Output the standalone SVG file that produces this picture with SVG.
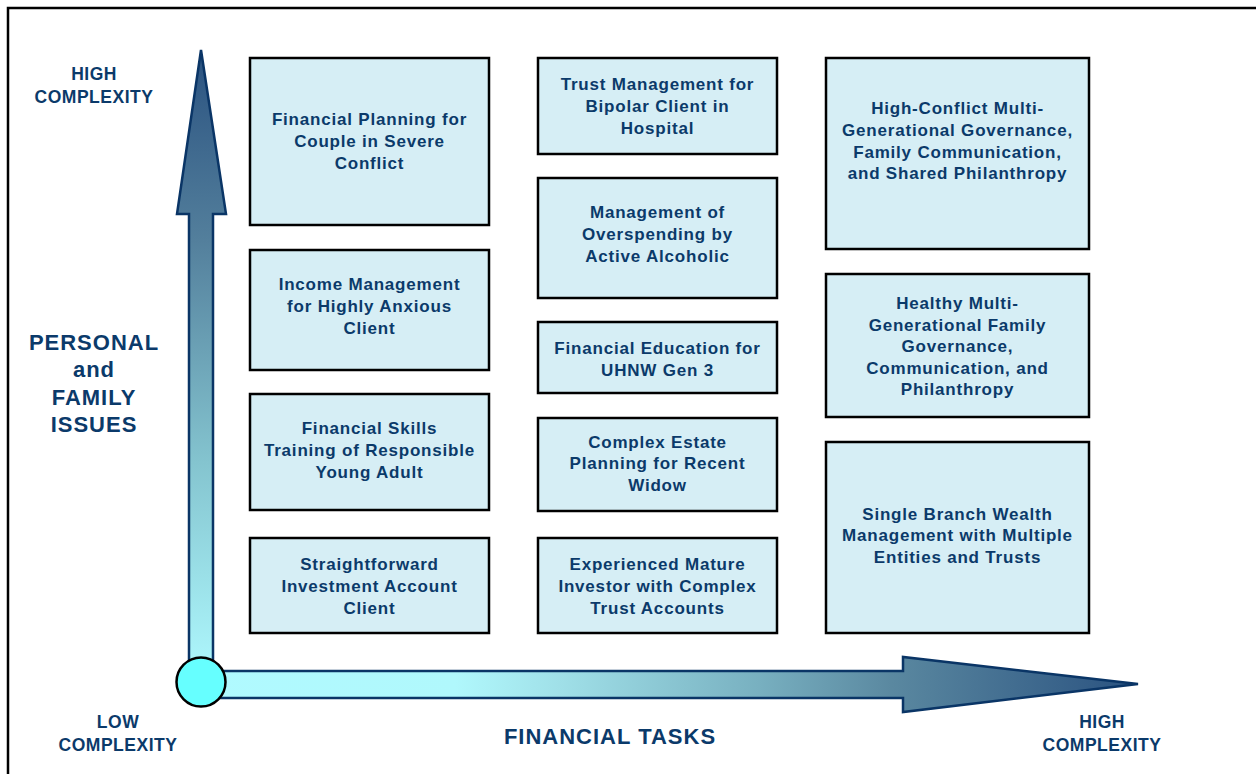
<svg xmlns="http://www.w3.org/2000/svg" width="1256" height="774" viewBox="0 0 1256 774">
<defs>
<style>
.box{fill:#d6eef5;stroke:#000;stroke-width:2.5}
.t{font-family:"Liberation Sans",Arial,sans-serif;font-weight:bold;fill:#0b3a6a;text-anchor:middle}
.bt{font-size:17px;letter-spacing:0.8px}
.ax{font-size:17.5px;letter-spacing:0.5px}
.big{font-size:22px;letter-spacing:1px}
.arr{stroke:#0a3566;stroke-width:2.5;stroke-linejoin:miter}
</style>
<linearGradient id="gv" x1="0" y1="50" x2="0" y2="684" gradientUnits="userSpaceOnUse">
<stop offset="0" stop-color="#2a5280"/>
<stop offset="0.3" stop-color="#537f9c"/>
<stop offset="0.65" stop-color="#84c4cf"/>
<stop offset="1" stop-color="#b0faff"/>
</linearGradient>
<linearGradient id="gh" x1="190" y1="0" x2="1138" y2="0" gradientUnits="userSpaceOnUse">
<stop offset="0" stop-color="#b0faff"/>
<stop offset="0.28" stop-color="#b0f8fc"/>
<stop offset="0.39" stop-color="#a0e0e8"/>
<stop offset="0.6" stop-color="#78b0c0"/>
<stop offset="0.74" stop-color="#5a88a0"/>
<stop offset="1" stop-color="#2a5280"/>
</linearGradient>
</defs>
<rect x="8" y="8" width="1262" height="790" fill="#fff" stroke="#000" stroke-width="2.5"/>

<g id="connectors">
<path class="arr" fill="url(#gv)" d="M201,50 L226,214 L213,214 L213,684 L189,684 L189,214 L177,214 Z"/>
<path class="arr" fill="url(#gh)" d="M201,671 L903,671 L903,657 L1138,684 L903,712 L903,698 L201,698 Z"/>
<circle cx="201" cy="682" r="24.5" fill="#66ffff" stroke="#000" stroke-width="2.5"/>
</g>

<g id="labels">
<text class="t ax" x="94" y="80">HIGH</text>
<text class="t ax" x="94" y="103">COMPLEXITY</text>
<text class="t big" x="94" y="350">PERSONAL</text>
<text class="t big" x="94" y="377">and</text>
<text class="t big" x="94" y="405">FAMILY</text>
<text class="t big" x="94" y="432">ISSUES</text>
<text class="t ax" x="118" y="728">LOW</text>
<text class="t ax" x="118" y="751">COMPLEXITY</text>
<text class="t big" x="610" y="744">FINANCIAL TASKS</text>
<text class="t ax" x="1102" y="728">HIGH</text>
<text class="t ax" x="1102" y="751">COMPLEXITY</text>
</g>

<g id="n1"><rect class="box" x="250" y="58" width="239" height="167"/>
<text class="t bt" x="369.5" y="125">Financial Planning for</text>
<text class="t bt" x="369.5" y="147">Couple in Severe</text>
<text class="t bt" x="369.5" y="169">Conflict</text></g>

<g id="n2"><rect class="box" x="250" y="250" width="239" height="120"/>
<text class="t bt" x="369.5" y="290">Income Management</text>
<text class="t bt" x="369.5" y="312">for Highly Anxious</text>
<text class="t bt" x="369.5" y="334">Client</text></g>

<g id="n3"><rect class="box" x="250" y="394" width="239" height="116"/>
<text class="t bt" x="369.5" y="434">Financial Skills</text>
<text class="t bt" x="369.5" y="456">Training of Responsible</text>
<text class="t bt" x="369.5" y="478">Young Adult</text></g>

<g id="n4"><rect class="box" x="250" y="538" width="239" height="95"/>
<text class="t bt" x="369.5" y="570">Straightforward</text>
<text class="t bt" x="369.5" y="592">Investment Account</text>
<text class="t bt" x="369.5" y="614">Client</text></g>

<g id="n5"><rect class="box" x="538" y="58" width="239" height="96"/>
<text class="t bt" x="657.5" y="90">Trust Management for</text>
<text class="t bt" x="657.5" y="112">Bipolar Client in</text>
<text class="t bt" x="657.5" y="134">Hospital</text></g>

<g id="n6"><rect class="box" x="538" y="178" width="239" height="120"/>
<text class="t bt" x="657.5" y="218">Management of</text>
<text class="t bt" x="657.5" y="240">Overspending by</text>
<text class="t bt" x="657.5" y="262">Active Alcoholic</text></g>

<g id="n7"><rect class="box" x="538" y="322" width="239" height="71"/>
<text class="t bt" x="657.5" y="354">Financial Education for</text>
<text class="t bt" x="657.5" y="376">UHNW Gen 3</text></g>

<g id="n8"><rect class="box" x="538" y="418" width="239" height="93"/>
<text class="t bt" x="657.5" y="448">Complex Estate</text>
<text class="t bt" x="657.5" y="469">Planning for Recent</text>
<text class="t bt" x="657.5" y="491">Widow</text></g>

<g id="n9"><rect class="box" x="538" y="538" width="239" height="95"/>
<text class="t bt" x="657.5" y="570">Experienced Mature</text>
<text class="t bt" x="657.5" y="592">Investor with Complex</text>
<text class="t bt" x="657.5" y="614">Trust Accounts</text></g>

<g id="n10"><rect class="box" x="826" y="58" width="263" height="191"/>
<text class="t bt" x="957.5" y="114">High-Conflict Multi-</text>
<text class="t bt" x="957.5" y="136">Generational Governance,</text>
<text class="t bt" x="957.5" y="158">Family Communication,</text>
<text class="t bt" x="957.5" y="179">and Shared Philanthropy</text></g>

<g id="n11"><rect class="box" x="826" y="274" width="263" height="143"/>
<text class="t bt" x="957.5" y="309">Healthy Multi-</text>
<text class="t bt" x="957.5" y="331">Generational Family</text>
<text class="t bt" x="957.5" y="352">Governance,</text>
<text class="t bt" x="957.5" y="374">Communication, and</text>
<text class="t bt" x="957.5" y="395">Philanthropy</text></g>

<g id="n12"><rect class="box" x="826" y="442" width="263" height="191"/>
<text class="t bt" x="957.5" y="520">Single Branch Wealth</text>
<text class="t bt" x="957.5" y="541">Management with Multiple</text>
<text class="t bt" x="957.5" y="563">Entities and Trusts</text></g>
</svg>
